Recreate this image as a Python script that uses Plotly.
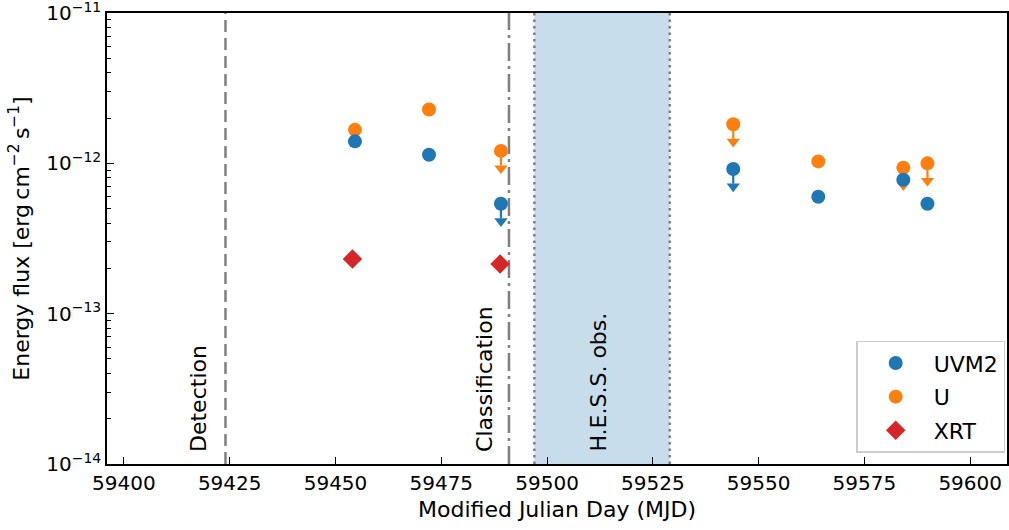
import numpy as np
import plotly.graph_objects as go

# ---- data ----
mjd_uv = [59454.6, 59472.1, 59489.1, 59544.0, 59564.1, 59584.2, 59589.9]
flux_uvm2 = [1.40e-12, 1.14e-12, 5.38e-13, 9.16e-13, 6.00e-13, 7.78e-13, 5.38e-13]
ul_uvm2 = [False, False, True, True, False, False, False]
flux_u = [1.67e-12, 2.28e-12, 1.21e-12, 1.82e-12, 1.03e-12, 9.35e-13, 1.00e-12]
ul_u = [False, False, True, True, False, True, True]
mjd_xrt = [59454.0, 59488.9]
flux_xrt = [2.31e-13, 2.14e-13]

mjd_detection = 59424.0
mjd_classification = 59491.0
hess_start, hess_end = 59497.0, 59529.0

x_ticks = [59400, 59425, 59450, 59475, 59500, 59525, 59550, 59575, 59600]
x_ticktext = [str(v) for v in x_ticks]
y_tickvals = [1e-14, 1e-13, 1e-12, 1e-11]
y_ticktext = ["10<sup>\u221214</sup>", "10<sup>\u221213</sup>", "10<sup>\u221212</sup>", "10<sup>\u221211</sup>"]

BLUE, ORANGE, RED, GREY = "#1f77b4", "#ff7f0e", "#d62728", "#808080"
FONT = "DejaVu Sans"
UL_FRAC = 0.2  # upper-limit arrow length as fraction of value

fig = go.Figure()

# H.E.S.S. band and event lines
fig.add_shape(type="rect", xref="x", yref="paper", x0=hess_start, x1=hess_end, y0=0, y1=1,
              fillcolor="#c7ddec", line_width=0, layer="below", opacity=1)
for xv in (hess_start, hess_end):
    fig.add_shape(type="line", xref="x", yref="paper", x0=xv, x1=xv, y0=0, y1=1, opacity=1,
                  line=dict(color=GREY, width=2.5, dash="2.5px,4px"), layer="below")
fig.add_shape(type="line", xref="x", yref="paper", x0=mjd_detection, x1=mjd_detection, y0=0, y1=1,
              opacity=1, line=dict(color=GREY, width=2.5, dash="12px,6px"), layer="below")
fig.add_shape(type="line", xref="x", yref="paper", x0=mjd_classification, x1=mjd_classification, y0=0, y1=1,
              opacity=1, line=dict(color=GREY, width=2.5, dash="18px,5px,3px,5px"), layer="below")


def add_series(x, f, ul, color, name, rank):
    x = np.array(x); f = np.array(f); ul = np.array(ul)
    xu, fu = x[ul], f[ul]
    if len(xu):
        fig.add_trace(go.Scatter(
            x=xu, y=fu, mode="markers", marker=dict(size=0.1, color=color, opacity=0),
            error_y=dict(type="data", symmetric=False, array=np.zeros(len(fu)),
                         arrayminus=fu * UL_FRAC, color=color, thickness=2.2, width=0),
            showlegend=False, hoverinfo="skip"))
        fig.add_trace(go.Scatter(
            x=xu, y=fu * (1 - UL_FRAC) * 10 ** (-0.019), mode="markers",
            marker=dict(symbol="triangle-down", size=11.5, color=color, line_width=0),
            showlegend=False, hoverinfo="skip"))
    fig.add_trace(go.Scatter(
        x=x, y=f, mode="markers", name=name, legendrank=rank, legendgroup=name,
        marker=dict(symbol="circle", size=14, color=color, line_width=0)))


add_series(mjd_uv, flux_u, ul_u, ORANGE, "U", 2)
add_series(mjd_uv, flux_uvm2, ul_uvm2, BLUE, "UVM2", 1)
fig.add_trace(go.Scatter(x=mjd_xrt, y=flux_xrt, mode="markers", name="XRT", legendrank=3, legendgroup="XRT",
                         marker=dict(symbol="diamond", size=15, color=RED, line_width=0)))

# vertical labels
labels = [(mjd_detection, "Detection", -27), (mjd_classification, "Classification", -25),
          ((hess_start + hess_end) / 2, "H.E.S.S. obs.", -4)]
for xv, txt, shift in labels:
    fig.add_annotation(x=xv, xref="x", y=0, yref="paper", text=txt, textangle=-90,
                       showarrow=False, xanchor="center", yanchor="bottom", xshift=shift, yshift=10,
                       font=dict(family=FONT, size=22, color="black"))

fig.update_layout(
    width=1009, height=530, template="none",
    paper_bgcolor="white", plot_bgcolor="white",
    margin=dict(l=107, r=2, t=13, b=66),
    font=dict(family=FONT, size=20, color="black"),
    showlegend=True,
    legend=dict(x=0.998, y=0.025, xanchor="right", yanchor="bottom",
                bgcolor="white", bordercolor="#cccccc", borderwidth=1.5,
                font=dict(family=FONT, size=22, color="black"), traceorder="grouped", tracegroupgap=2,
                itemwidth=66),
)
fig.update_xaxes(range=[59396, 59608.7], tickvals=x_ticks, ticktext=x_ticktext,
                 ticks="inside", ticklen=7, tickwidth=1.3, tickcolor="black",
                 showline=True, linewidth=1.5, linecolor="black", mirror=True, showgrid=False, zeroline=False,
                 title=dict(text="Modified Julian Day (MJD)", font=dict(size=22), standoff=8),
                 tickfont=dict(size=20))
fig.update_yaxes(type="log", range=[-14.0001, -10.9999], tickvals=y_tickvals, ticktext=y_ticktext,
                 ticks="inside", ticklen=7, tickwidth=1.3, tickcolor="black", ticklabeloverflow="allow",
                 minor=dict(ticks="inside", ticklen=4, tickwidth=1, tickcolor="black",
                            tickvals=[m * 10.0 ** e for e in (-14, -13, -12) for m in range(2, 10)]),
                 showline=True, linewidth=1.5, linecolor="black", mirror=True, showgrid=False, zeroline=False,
                 title=dict(text="Energy flux [erg\u2009cm<sup>\u22122</sup>\u2009s<sup>\u22121</sup>]",
                            font=dict(size=22), standoff=11),
                 tickfont=dict(size=20))

fig.write_html("out.html", config={"displayModeBar": False},
               post_script="document.body.style.margin='0';document.body.style.padding='0';")
